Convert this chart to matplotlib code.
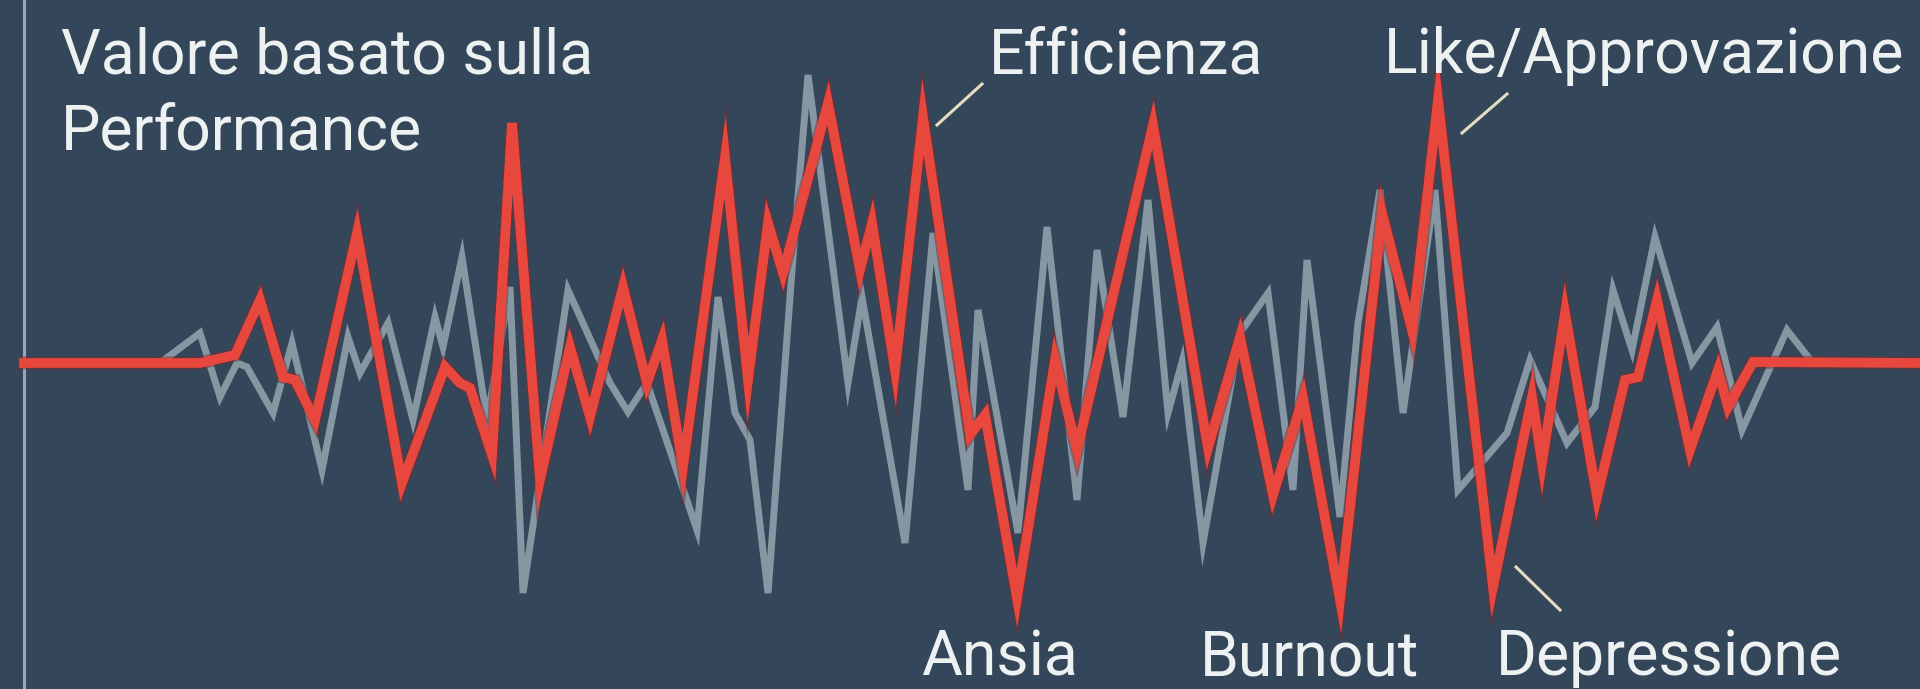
import matplotlib
matplotlib.use("Agg")
import matplotlib.pyplot as plt
import matplotlib.patheffects as pe

# colori
sfondo = "#34475a"
rosso = "#e8473d"
grigio = "#8e9faa"
testo = "#eef1f2"
crema = "#e6dcc0"

# posizioni lungo l'asse del tempo (px di riferimento) e ampiezza rispetto alla linea di base
t_perf = [24, 200, 235, 260, 283, 295, 315, 357, 402, 445, 460, 470, 492, 512, 540,
          570, 590, 623, 647, 662, 683, 725, 748, 768, 783, 828, 860, 872, 895, 923,
          970, 985, 1017, 1055, 1077, 1153, 1208, 1240, 1273, 1303, 1340, 1382, 1412,
          1438, 1493, 1532, 1542, 1565, 1597, 1625, 1638, 1657, 1690, 1718, 1728, 1753,
          1920]
y_perf = [363, 363, 355, 300, 377, 380, 420, 233, 483, 367, 383, 388, 455, 123, 480,
          347, 417, 287, 383, 340, 467, 157, 380, 223, 273, 103, 270, 223, 370, 117,
          435, 415, 598, 360, 450, 125, 448, 337, 495, 398, 600, 213, 330,
          100, 587, 397, 463, 313, 497, 380, 377, 300, 450, 370, 407, 362,
          363]

t_base = [24, 160, 200, 220, 237, 247, 273, 292, 322, 348, 360, 388, 413, 435, 443,
          462, 487, 510, 523, 568, 610, 628, 647, 697, 718, 735, 750, 768, 793, 808,
          848, 862, 905, 933, 968, 978, 1018, 1047, 1077, 1097, 1123, 1148, 1168, 1182,
          1203, 1240, 1268, 1293, 1307, 1340, 1358, 1380, 1403, 1435, 1458, 1507, 1530,
          1567, 1595, 1613, 1632, 1655, 1692, 1717, 1742, 1787, 1812, 1920]
y_base = [363, 363, 333, 397, 363, 367, 413, 343, 470, 337, 373, 323, 420, 317, 347,
          257, 420, 287, 593, 290, 383, 412, 383, 530, 297, 413, 440, 593, 257, 75,
          383, 297, 543, 233, 490, 310, 533, 227, 500, 250, 417, 200, 413, 362,
          543, 333, 293, 490, 260, 517, 323, 190, 413, 190, 490, 433, 360,
          443, 407, 290, 350, 237, 363, 327, 430, 330, 362, 363]

baseline = 363
perf = [baseline - v for v in y_perf]
base = [baseline - v for v in y_base]

etichette_alto = ["Efficienza", "Like/Approvazione"]
x_alto = [989, 1384]
etichette_basso = ["Ansia", "Burnout", "Depressione"]
x_basso = [921, 1200, 1496]

plt.rcParams['font.family'] = ['Roboto', 'DejaVu Sans']

fig = plt.figure(figsize=(19.2, 6.89), dpi=100, facecolor=sfondo)
ax = fig.add_axes([0, 0, 1, 1])
ax.set_facecolor(sfondo)
ax.set_xlim(0, 1920)
ax.set_ylim(baseline - 689, baseline)
ax.axis('off')

# asse verticale a sinistra
ax.axvline(24, color="#9aa6b0", linewidth=2.2)

ax.plot(t_base, base, color=grigio, linewidth=5, solid_joinstyle='miter', alpha=0.92, zorder=2)
ax.plot(t_perf, perf, color=rosso, linewidth=7, solid_joinstyle='miter', zorder=3,
        path_effects=[pe.Stroke(linewidth=9.5, foreground="#7a2a2e", alpha=0.5), pe.Normal()])

fs = 45
ax.text(61, baseline - 73, "Valore basato sulla", color=testo, fontsize=fs, va='baseline')
ax.text(61, baseline - 150, "Performance", color=testo, fontsize=fs, va='baseline')
for s, x in zip(etichette_alto, x_alto):
    ax.text(x, baseline - 73, s, color=testo, fontsize=fs, va='baseline')
for s, x in zip(etichette_basso, x_basso):
    ax.text(x, baseline - 675, s, color=testo, fontsize=fs, va='baseline')

# linee guida delle etichette
ax.plot([937, 982], [baseline - 125, baseline - 84], color=crema, linewidth=2.2)
ax.plot([1462, 1507], [baseline - 133, baseline - 94], color=crema, linewidth=2.2)
ax.plot([1516, 1560], [baseline - 567, baseline - 610], color=crema, linewidth=2.2)

plt.savefig("out.png", dpi=100, facecolor=sfondo)
plt.close('all')
